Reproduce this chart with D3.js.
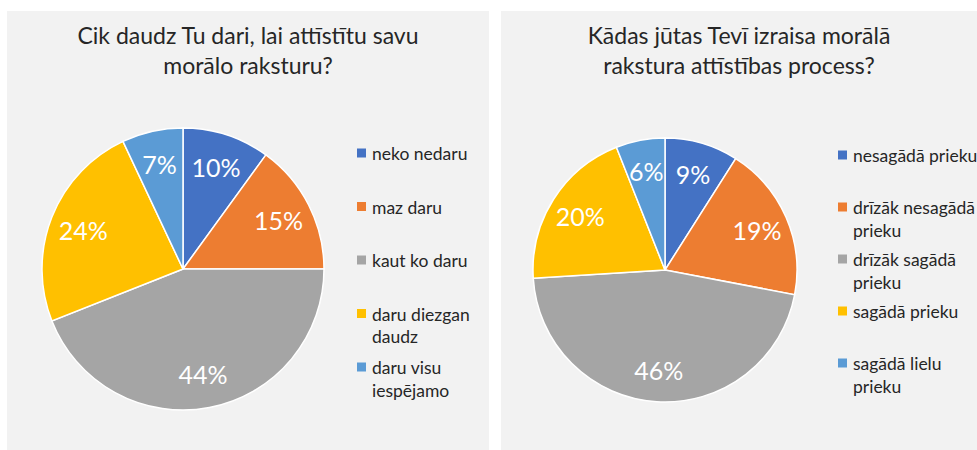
<!DOCTYPE html>
<html>
<head>
<meta charset="utf-8">
<script src="https://cdn.jsdelivr.net/npm/d3@7"></script>
<style>
  html, body { margin: 0; padding: 0; background: #ffffff; }
  svg { display: block; }
  text { font-family: Lato, "Open Sans", sans-serif; }
</style>
</head>
<body>
<svg id="chart" width="977" height="450"></svg>
<script>
// ---- Data ----
const leftTitle = ["Cik daudz Tu dari, lai attīstītu savu", "morālo raksturu?"];
const leftCategories = ["neko nedaru", "maz daru", "kaut ko daru", "daru diezgan daudz", "daru visu iespējamo"];
const leftValues = [10, 15, 44, 24, 7];

const rightTitle = ["Kādas jūtas Tevī izraisa morālā", "rakstura attīstības process?"];
const rightCategories = ["nesagādā prieku", "drīzāk nesagādā prieku", "drīzāk sagādā prieku", "sagādā prieku", "sagādā lielu prieku"];
const rightValues = [9, 19, 46, 20, 6];

const sliceColors = ["#4472C4", "#ED7D31", "#A5A5A5", "#FFC000", "#5B9BD5"];

// ---- Layout ----
const svg = d3.select("#chart");
const panels = [
  { title: leftTitle, cats: leftCategories, vals: leftValues,
    x: 7, y: 11, w: 482, h: 439, cx: 183, cy: 269, r: 141,
    legX: 357, legY: 153, legStep: 53.5, wrap: 112 },
  { title: rightTitle, cats: rightCategories, vals: rightValues,
    x: 501, y: 11, w: 476, h: 439, cx: 665, cy: 270, r: 132,
    legX: 838, legY: 155, legStep: 52, wrap: 130 }
];

const legendFont = 17.5;
const color = d3.scaleOrdinal().range(sliceColors);

panels.forEach(p => {
  const g = svg.append("g");
  g.append("rect")
    .attr("x", p.x).attr("y", p.y)
    .attr("width", p.w).attr("height", p.h)
    .attr("fill", "#F2F2F2");

  // Title
  const tcx = p.x + p.w / 2;
  g.append("text")
    .attr("x", tcx).attr("y", 43.5)
    .attr("text-anchor", "middle")
    .attr("font-size", 23).attr("fill", "#262626")
    .selectAll("tspan").data(p.title).join("tspan")
    .attr("x", tcx)
    .attr("dy", (d, i) => i === 0 ? 0 : 30)
    .text(d => d);

  // Pie
  const pie = d3.pie().sort(null).value(d => d.v);
  const data = pie(p.cats.map((c, i) => ({ c, v: p.vals[i], i })));
  const arc = d3.arc().innerRadius(0).outerRadius(p.r);
  const labelArc = d3.arc().innerRadius(p.r * 0.76).outerRadius(p.r * 0.76);
  const total = d3.sum(p.vals);

  const pg = g.append("g").attr("transform", `translate(${p.cx},${p.cy})`);
  pg.selectAll("path").data(data).join("path")
    .attr("d", arc)
    .attr("fill", d => color(d.data.i))
    .attr("stroke", "#ffffff")
    .attr("stroke-width", 1.5);

  pg.selectAll("text.lbl").data(data).join("text")
    .attr("class", "lbl")
    .attr("transform", d => `translate(${labelArc.centroid(d)})`)
    .attr("text-anchor", "middle")
    .attr("dominant-baseline", "central")
    .attr("font-size", 25)
    .attr("fill", "#ffffff")
    .text(d => Math.round(d.data.v / total * 100) + "%");

  // Legend
  const lg = g.append("g");
  p.cats.forEach((c, i) => {
    const yy = p.legY + i * p.legStep;
    lg.append("rect")
      .attr("x", p.legX).attr("y", yy - 4.5)
      .attr("width", 9).attr("height", 9)
      .attr("fill", color(i));
    const t = lg.append("text")
      .attr("x", p.legX + 15).attr("y", yy)
      .attr("dominant-baseline", "central")
      .attr("font-size", legendFont).attr("fill", "#262626");
    // word wrap
    const words = c.split(" ");
    let lines = [], cur = "";
    const probe = lg.append("text").attr("font-size", legendFont).attr("visibility", "hidden");
    words.forEach(w => {
      const test = cur ? cur + " " + w : w;
      probe.text(test);
      if (cur && probe.node().getComputedTextLength() > p.wrap) {
        lines.push(cur); cur = w;
      } else cur = test;
    });
    lines.push(cur);
    probe.remove();
    t.selectAll("tspan").data(lines).join("tspan")
      .attr("x", p.legX + 15)
      .attr("dy", (d, j) => j === 0 ? 0 : 22.5)
      .text(d => d);
  });
});
</script>
</body>
</html>
